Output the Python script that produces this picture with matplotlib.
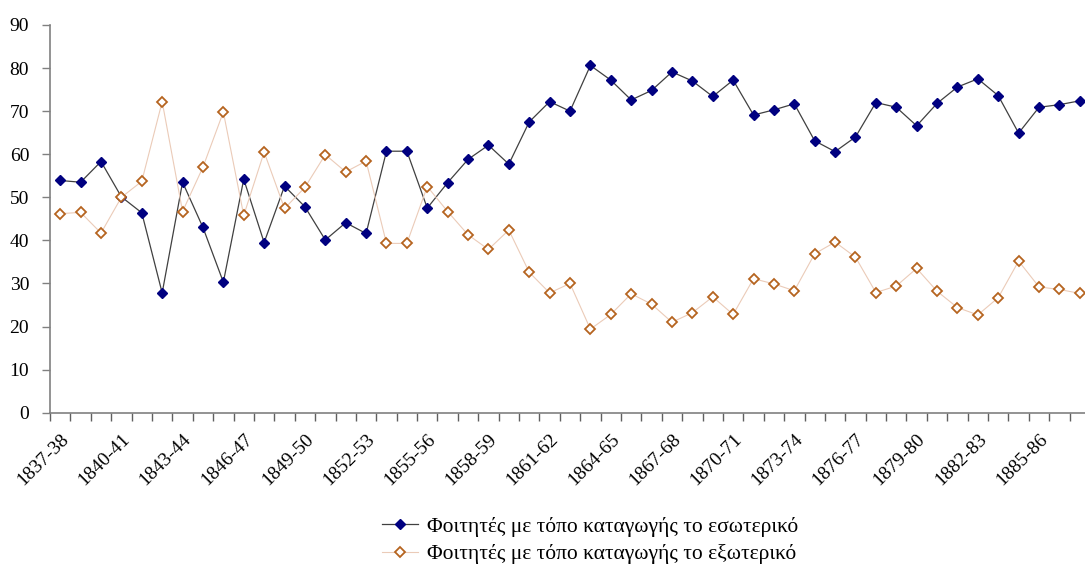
import matplotlib
matplotlib.use("Agg")
import matplotlib.pyplot as plt
import numpy as np

# academic years 1837-38 .. 1887-88
years = ["%d-%02d" % (y, (y + 1) % 100) for y in range(1837, 1888)]

# share of students (%) by place of origin
interior = [53.9, 53.5, 58.3, 50.1, 46.4, 27.8, 53.5, 43.0, 30.3, 54.2,
            39.5, 52.6, 47.8, 40.1, 44.1, 41.6, 60.7, 60.7, 47.5, 53.4,
            58.8, 62.1, 57.7, 67.5, 72.2, 70.0, 80.6, 77.2, 72.6, 74.8,
            79.1, 77.0, 73.4, 77.2, 69.1, 70.3, 71.7, 63.1, 60.6, 64.0,
            72.0, 70.9, 66.6, 71.8, 75.6, 77.5, 73.6, 64.9, 70.9, 71.5,
            72.4]
abroad = [46.2, 46.5, 41.7, 50.0, 53.7, 72.2, 46.7, 57.0, 69.8, 45.8,
          60.5, 47.4, 52.3, 59.9, 55.9, 58.4, 39.3, 39.3, 52.5, 46.7,
          41.3, 37.9, 42.4, 32.6, 27.8, 30.0, 19.4, 22.8, 27.6, 25.2,
          21.0, 23.2, 26.9, 22.8, 31.1, 29.9, 28.3, 36.9, 39.6, 36.1,
          27.9, 29.4, 33.5, 28.2, 24.4, 22.7, 26.7, 35.2, 29.2, 28.6,
          27.7]

label_int = "Φοιτητές με τόπο καταγωγής το εσωτερικό"
label_ext = "Φοιτητές με τόπο καταγωγής το εξωτερικό"

plt.rcParams['font.family'] = ['Liberation Serif', 'DejaVu Serif']

fig = plt.figure(figsize=(10.85, 5.69), dpi=100)
ax = fig.add_axes([0.0461, 0.2747, 0.9585, 0.6814])

x = np.arange(len(years))
ax.plot(x, interior, color='#404040', lw=0.9, marker='D', markersize=5.5,
        markerfacecolor='#000080', markeredgecolor='#000080', label=label_int)
ax.plot(x, abroad, color='#ebcbb8', lw=0.8, marker='D', markersize=5.5,
        markerfacecolor='white', markeredgecolor='#b5641f', markeredgewidth=1.3,
        label=label_ext)

ax.set_xlim(-0.5, len(years) - 0.5)
ax.set_ylim(0, 90)
ax.set_yticks(range(0, 91, 10))
ax.set_xticks(x[::3])
ax.set_xticklabels(years[::3], rotation=45, ha='right', va='top',
                   rotation_mode='anchor')
ax.set_xticks(np.arange(-0.5, len(years), 1), minor=True)
ax.tick_params(axis='x', which='major', length=0, pad=13, labelsize=14)
ax.tick_params(axis='x', which='minor', length=6, color='#606060', width=1)
ax.tick_params(axis='y', length=6, color='#808080', width=1, labelsize=14, pad=9)

for s in ['top', 'right']:
    ax.spines[s].set_visible(False)
for s in ['left', 'bottom']:
    ax.spines[s].set_color('#808080')
    ax.spines[s].set_linewidth(1.2)

fig.legend(loc='upper left', bbox_to_anchor=(0.344, 0.107), frameon=False,
           fontsize=15.5, handlelength=1.7, handletextpad=0.4,
           labelspacing=0.35, borderaxespad=0)

fig.savefig("out.png", dpi=100)
